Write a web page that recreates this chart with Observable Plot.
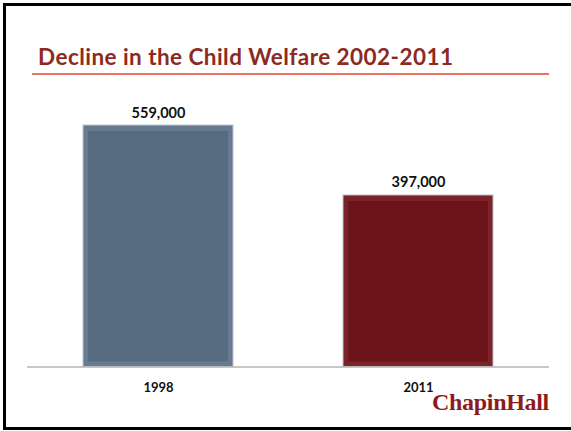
<!DOCTYPE html>
<html>
<head>
<meta charset="utf-8">
<script src="https://cdn.jsdelivr.net/npm/d3@7"></script>
<script src="https://cdn.jsdelivr.net/npm/@observablehq/plot@0.6"></script>
<style>
  html, body { margin: 0; padding: 0; background: #fff; }
  #page { position: relative; width: 571px; height: 431px; overflow: hidden; background: #fff; }
  #frame { position: absolute; left: 3px; top: 3px; width: 600px; height: 427px; box-sizing: border-box;
           border-top: 3px solid #000; border-left: 3px solid #000; border-bottom: 3px solid #000; }
  #title { position: absolute; left: 38px; top: 42px; font-family: Lato, "Open Sans", sans-serif; font-weight: 700;
           font-size: 22.5px; letter-spacing: 0.45px; color: #8C2A1F; white-space: nowrap; line-height: 30px; }
  #rule { position: absolute; left: 32px; top: 73px; width: 517px; height: 2px; background: #E8735F; }
  #logo { position: absolute; right: 22px; top: 388px; font-family: "Liberation Serif", "DejaVu Serif", serif;
          font-weight: 700; font-size: 24px; color: #8E1B1B; letter-spacing: -0.3px; line-height: 28px; white-space: nowrap; }
  #chart { position: absolute; left: 0; top: 0; }
</style>
</head>
<body>
<div id="page">
  <div id="chart"></div>
  <div id="frame"></div>
  <div id="title">Decline in the Child Welfare 2002-2011</div>
  <div id="rule"></div>
  <div id="logo">ChapinHall</div>
</div>
<script>
const years = ["1998", "2011"];
const counts = [559000, 397000];
const barColors = ["#566A80", "#6B141A"];
const bevelColors = ["#667A91", "#7C2229"];
const valueLabels = ["559,000", "397,000"];

const data = years.map((y, i) => ({year: y, count: counts[i], color: barColors[i], bevel: bevelColors[i], label: valueLabels[i]}));

const chart = Plot.plot({
  width: 571,
  height: 431,
  marginLeft: 27,
  marginRight: 22,
  marginTop: 125,
  marginBottom: 64.5,
  style: {background: "transparent", fontFamily: "Lato, 'Open Sans', sans-serif"},
  x: {domain: years, paddingInner: 0.425, paddingOuter: 0.2126, label: null},
  y: {domain: [0, 559000], axis: null},
  marks: [
    Plot.barY(data, {x: "year", y: "count", fill: "bevel", stroke: "#c0c5cc", strokeWidth: 1}),
    Plot.barY(data, {x: "year", y: "count", fill: "color", insetTop: 6, insetLeft: 5, insetRight: 5, insetBottom: 5}),
    Plot.ruleY([0], {stroke: "#b5b5b5", strokeWidth: 1.5}),
    Plot.text(data, {x: "year", y: "count", text: "label", dy: -8, lineAnchor: "bottom", fontWeight: 700, fontSize: 14.5, fill: "#111"}),
    Plot.axisX({tickSize: 0, tickPadding: 16, fontSize: 13, fontWeight: 700, fill: "#111", label: null})
  ]
});
document.getElementById("chart").appendChild(chart);
</script>
</body>
</html>
